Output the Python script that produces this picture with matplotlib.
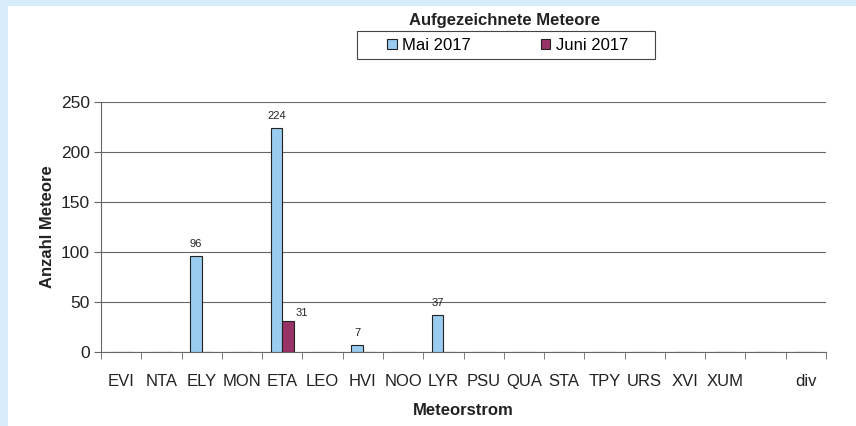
import matplotlib.pyplot as plt
import numpy as np
from matplotlib.patches import Rectangle

plt.rcParams['font.family'] = ['Liberation Sans', 'DejaVu Sans']

streams = ['EVI', 'NTA', 'ELY', 'MON', 'ETA', 'LEO', 'HVI', 'NOO', 'LYR',
           'PSU', 'QUA', 'STA', 'TPY', 'URS', 'XVI', 'XUM', '', 'div']
mai = [0, 0, 96, 0, 224, 0, 7, 0, 37, 0, 0, 0, 0, 0, 0, 0, 0, 0]
juni = [0, 0, 0, 0, 31, 0, 0, 0, 0, 0, 0, 0, 0, 0, 0, 0, 0, 0]
series_names = ['Mai 2017', 'Juni 2017']
yticks = [0, 50, 100, 150, 200, 250]

col_mai = '#99ccee'
col_juni = '#993366'

fig = plt.figure(figsize=(8.56, 4.26), dpi=100)
fig.patch.set_facecolor('#d6ecfa')
fig.patches.append(Rectangle((8 / 856, 0), 1, 1 - 6 / 426, transform=fig.transFigure,
                             facecolor='white', edgecolor='none', zorder=-10))

ax = fig.add_axes([101 / 856, 1 - 352 / 426, 725 / 856, 250 / 426])
ax.set_facecolor('none')

x = np.arange(len(streams))
w = 0.285
b1 = ax.bar(x - w / 2, mai, w, color=col_mai, edgecolor='#222222', linewidth=0.8,
            label=series_names[0], zorder=3)
b2 = ax.bar(x + w / 2, juni, w, color=col_juni, edgecolor='#222222', linewidth=0.8,
            label=series_names[1], zorder=3)

# value labels only for non-zero bars
for rect, v in zip(b1, mai):
    if v:
        ax.annotate(str(v), (rect.get_x() + rect.get_width() / 2, v),
                    xytext=(0, 5), textcoords='offset points',
                    ha='center', va='bottom', fontsize=8, color='#222222')
for rect, v in zip(b2, juni):
    if v:
        ax.annotate(str(v), (rect.get_x() + rect.get_width() / 2, v),
                    xytext=(10, 6), textcoords='offset points',
                    ha='center', va='center', fontsize=8, color='#222222')

ax.set_xlim(-0.5, len(streams) - 0.5)
ax.set_ylim(0, 250)
ax.set_yticks(yticks)
ax.yaxis.grid(True, color='#666666', linewidth=0.8)
ax.set_axisbelow(True)

ax.set_xticks(x)
ax.set_xticklabels(streams)
ax.set_xticks(np.arange(len(streams) + 1) - 0.5, minor=True)
ax.tick_params(axis='x', which='major', length=0, pad=16, labelsize=12, colors='#222222')
ax.tick_params(axis='x', which='minor', length=5, direction='out', color='#666666')
ax.tick_params(axis='y', length=5, direction='out', pad=3, labelsize=12.5,
               colors='#222222', color='#666666')

for s in ['top', 'right']:
    ax.spines[s].set_visible(False)
for s in ['left', 'bottom']:
    ax.spines[s].set_color('#666666')
    ax.spines[s].set_linewidth(0.8)

ax.set_xlabel('Meteorstrom', fontsize=12, fontweight='bold', labelpad=10, color='#222222')
ax.set_ylabel('Anzahl Meteore', fontsize=12, fontweight='bold', labelpad=4, color='#222222')

# legend with title above the frame
fig.text(505 / 856, 1 - 20 / 426, 'Aufgezeichnete Meteore', ha='center', va='center',
         fontsize=12, fontweight='bold', color='#222222')
fig.patches.append(Rectangle((357 / 856, 1 - 59 / 426), 298 / 856, 28 / 426,
                             transform=fig.transFigure, facecolor='white',
                             edgecolor='#444444', linewidth=0.8))
fig.legend(handles=[b1, b2], loc='center', bbox_to_anchor=(508 / 856, 1 - 45 / 426),
           ncol=2, frameon=False, fontsize=12, handlelength=0.55, handleheight=0.55,
           handletextpad=0.35, columnspacing=4.2, borderpad=0)

fig.savefig('out.png', dpi=100, facecolor=fig.get_facecolor())
